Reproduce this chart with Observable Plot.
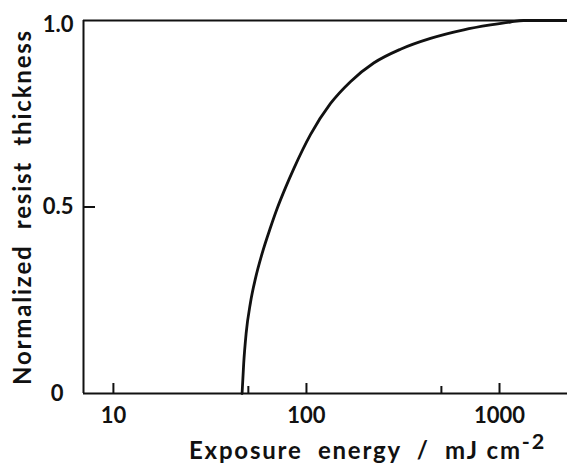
<!DOCTYPE html>
<html><head><meta charset="utf-8">
<script src="https://cdn.jsdelivr.net/npm/d3@7"></script>
<script src="https://cdn.jsdelivr.net/npm/@observablehq/plot@0.6"></script>
<style>body{margin:0;background:#fff} svg{white-space:pre}</style>
</head><body><div id="chart"></div>
<script>
const energy = [46.4, 47.3, 48.7, 51.3, 54.4, 58.9, 65.1, 70.5, 77.9, 86.0, 104.9, 133, 169, 223, 307, 439, 653, 898, 1140, 1331, 2250];
const thickness = [0, 0.080, 0.161, 0.244, 0.308, 0.375, 0.445, 0.496, 0.552, 0.603, 0.694, 0.777, 0.836, 0.886, 0.923, 0.952, 0.975, 0.988, 0.996, 1.0, 1.0];
const xMajorTicks = [10, 100, 1000];
const xMinorTicks = [50, 500];
const yTickMarks = [0.5];
const yMidLabel = [0.5];
const yTopLabel = [1.0];
const yZeroLabel = [0];
const xLabel = "Exposure  energy  /  mJ cm";
const xLabelSup = "-2";
const yLabel = "Normalized  resist  thickness";
const xDomain = [7, 2250];
const yDomain = [0, 1];

const data = energy.map((e, i) => ({e, t: thickness[i]}));
const ink = "#111";
const font = "Lato, 'Open Sans', sans-serif";

const chart = Plot.plot({
  width: 567,
  height: 464,
  marginLeft: 83,
  marginRight: 0,
  marginTop: 20,
  marginBottom: 71,
  style: {fontFamily: font, background: "#fff", color: ink, fontWeight: "bold"},
  x: {type: "log", domain: xDomain, axis: null},
  y: {domain: yDomain, axis: null},
  marks: [
    Plot.ruleX([xDomain[0]], {stroke: ink, strokeWidth: 2}),
    Plot.ruleY([0, 1], {stroke: ink, strokeWidth: 2}),
    Plot.axisX(xMajorTicks, {tickSize: -10, strokeWidth: 2, stroke: ink, tickFormat: () => "", label: null}),
    Plot.axisX(xMinorTicks, {tickSize: -7, strokeWidth: 2, stroke: ink, tickFormat: () => "", label: null}),
    Plot.axisX(xMajorTicks, {tickSize: 0, tickPadding: 14, fontSize: 22, fontWeight: "bold", fill: ink, tickFormat: d => String(d), label: null}),
    Plot.axisY(yTickMarks, {tickSize: -12, strokeWidth: 2, stroke: ink, tickFormat: () => "", label: null}),
    Plot.axisY(yMidLabel, {tickSize: 0, tickPadding: 10, fontSize: 22, fontWeight: "bold", fill: ink, tickFormat: d3.format(".1f"), label: null}),
    Plot.axisY(yTopLabel, {tickSize: 0, tickPadding: 10, dy: 4, fontSize: 22, fontWeight: "bold", fill: ink, tickFormat: d3.format(".1f"), label: null}),
    Plot.axisY(yZeroLabel, {tickSize: 0, tickPadding: 20, fontSize: 22, fontWeight: "bold", fill: ink, tickFormat: d => String(d), label: null}),
    Plot.line(data, {x: "e", y: "t", stroke: ink, strokeWidth: 2.8, curve: "monotone-x"}),
    Plot.text([xLabel], {frameAnchor: "bottom", textAnchor: "middle", dx: 42, dy: 58, lineAnchor: "middle", fontSize: 24, fontWeight: "bold", fill: ink, text: d => d}),
    Plot.text([yLabel], {frameAnchor: "left", textAnchor: "middle", dx: -60, rotate: -90, lineAnchor: "middle", fontSize: 24, fontWeight: "bold", fill: ink, text: d => d})
  ]
});

chart.querySelectorAll("text").forEach(t => {
  if (t.textContent === xLabel || t.textContent === yLabel) {
    t.setAttribute("letter-spacing", "1.8");
  }
  if (t.textContent === xLabel) {
    const sup = document.createElementNS("http://www.w3.org/2000/svg", "tspan");
    sup.textContent = xLabelSup;
    sup.setAttribute("dy", "-0.45em");
    sup.setAttribute("font-size", "0.9em");
    const target = t.querySelector("tspan") || t;
    target.appendChild(sup);
  }
});
document.getElementById("chart").appendChild(chart);
</script>
</body></html>
